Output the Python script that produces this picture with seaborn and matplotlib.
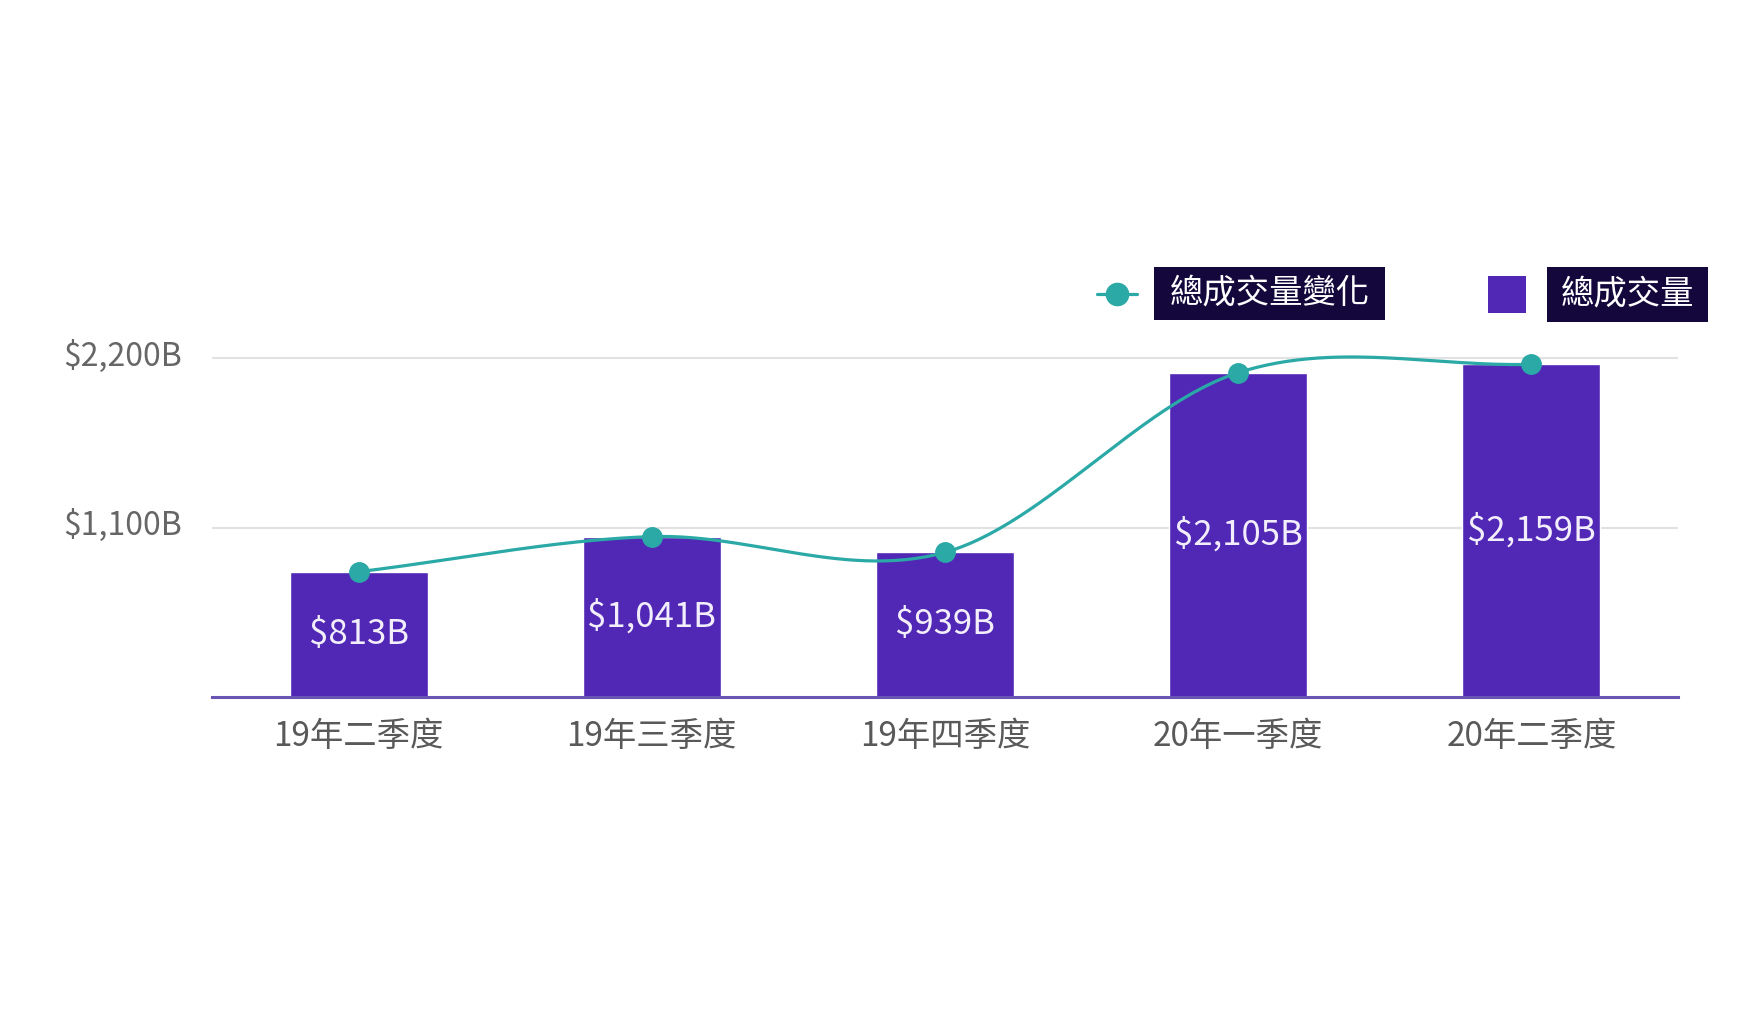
import numpy as np
import pandas as pd
import matplotlib
matplotlib.use("Agg")
import matplotlib.pyplot as plt
import matplotlib.transforms as mtransforms
from matplotlib.patches import Rectangle
from matplotlib.lines import Line2D
import seaborn as sns

# ---- data ----
categories = ["19年二季度", "19年三季度", "19年四季度", "20年一季度", "20年二季度"]
volumes = [813, 1041, 939, 2105, 2159]
bar_labels = ["$813B", "$1,041B", "$939B", "$2,105B", "$2,159B"]
ytick_values = [1100, 2200]
ytick_labels = ["$1,100B", "$2,200B"]
legend_line_label = "總成交量變化"
legend_bar_label = "總成交量"

BAR = "#5127b5"
TEAL = "#2aa9a6"
NAVY = "#13073b"

sns.set_theme(style="white")
plt.rcParams["font.family"] = ["Noto Sans CJK TC", "DejaVu Sans"]

W, H = 1747, 1022
fig = plt.figure(figsize=(W / 100, H / 100), dpi=100)
fig.patch.set_facecolor("white")

def fx(px):
    return px / W

def fy(py):
    return 1 - py / H

ax = fig.add_axes([fx(212), fy(697), fx(1678) - fx(212), fy(327.2) - fy(697)])
ax.set_facecolor("none")

df = pd.DataFrame({"cat": categories, "vol": volumes})
sns.barplot(data=df, x="cat", y="vol", color=BAR, saturation=1, width=0.47,
            ax=ax, zorder=2)

# smooth line (Catmull-Rom style Hermite through the data points)
y = np.array(volumes, dtype=float)
xs = np.arange(len(y), dtype=float)
m = np.gradient(y)
cx, cy = [], []
for i in range(len(y) - 1):
    t = np.linspace(0, 1, 60)
    h00 = 2 * t**3 - 3 * t**2 + 1
    h10 = t**3 - 2 * t**2 + t
    h01 = -2 * t**3 + 3 * t**2
    h11 = t**3 - t**2
    cx.extend(xs[i] + t)
    cy.extend(h00 * y[i] + h10 * m[i] + h01 * y[i + 1] + h11 * m[i + 1])
ax.plot(cx, cy, color=TEAL, lw=2.3, zorder=4)
ax.plot(xs, y, "o", color=TEAL, ms=14, mec=TEAL, zorder=5)

# bar value labels
for i, (v, lab) in enumerate(zip(volumes, bar_labels)):
    ax.text(i, v / 2, lab, ha="center", va="center", color="#f3eefc",
            fontsize=25, fontweight="medium", zorder=6)

ax.set_xlim(-0.5, len(categories) - 0.5)
ax.set_ylim(0, 2400)
ax.set_yticks(ytick_values)
ax.set_yticklabels(ytick_labels)
ax.yaxis.grid(True, color="#e2e2e2", lw=1.5)
ax.xaxis.grid(False)
ax.set_axisbelow(True)
ax.tick_params(axis="y", length=0, pad=22, labelsize=23, labelcolor="#666666")
ax.tick_params(axis="x", length=0, pad=16, labelsize=24, labelcolor="#595959")
up = mtransforms.ScaledTranslation(0, 4 / 72, fig.dpi_scale_trans)
for lab in ax.get_yticklabels():
    lab.set_transform(lab.get_transform() + up)
ax.set_xlabel("")
ax.set_ylabel("")
for s in ["top", "right", "left"]:
    ax.spines[s].set_visible(False)
ax.spines["bottom"].set_color("#6a55b5")
ax.spines["bottom"].set_linewidth(2.2)
ax.spines["bottom"].set_zorder(7)

# ---- legend (custom) ----
fig.add_artist(Line2D([fx(1097), fx(1137)], [fy(294), fy(294)], color=TEAL,
                      lw=2.3, transform=fig.transFigure))
fig.add_artist(Line2D([fx(1117)], [fy(294)], marker="o", ms=16, color=TEAL,
                      transform=fig.transFigure))
fig.add_artist(Rectangle((fx(1154), fy(320)), fx(1385) - fx(1154), fy(267) - fy(320),
                         facecolor=NAVY, edgecolor="none", transform=fig.transFigure))
fig.text(fx(1269.5), fy(293.5), legend_line_label, color="white", fontsize=24,
         ha="center", va="center")

fig.add_artist(Rectangle((fx(1488), fy(313)), fx(1526) - fx(1488), fy(276) - fy(313),
                         facecolor=BAR, edgecolor="none", transform=fig.transFigure))
fig.add_artist(Rectangle((fx(1547), fy(322)), fx(1708) - fx(1547), fy(267) - fy(322),
                         facecolor=NAVY, edgecolor="none", transform=fig.transFigure))
fig.text(fx(1627.5), fy(294.5), legend_bar_label, color="white", fontsize=24,
         ha="center", va="center")

fig.savefig("out.png", dpi=100, facecolor="white")
